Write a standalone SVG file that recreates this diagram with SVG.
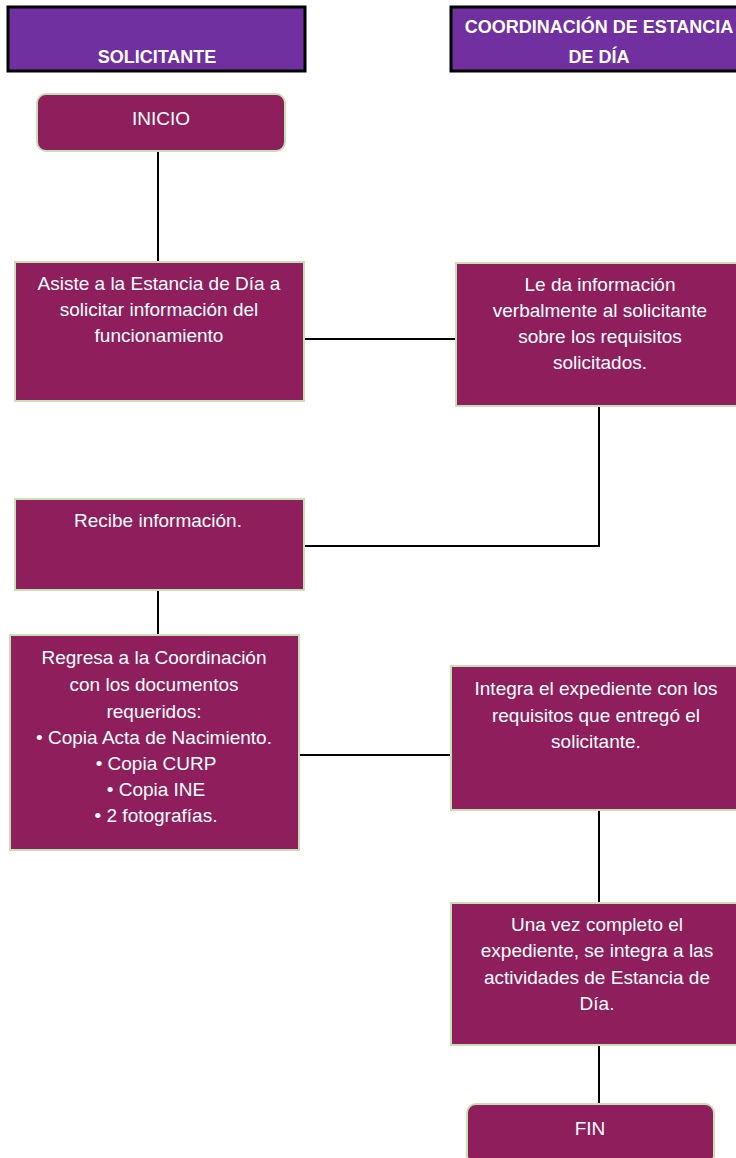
<svg xmlns="http://www.w3.org/2000/svg" width="736" height="1158" viewBox="0 0 736 1158">
<style>
.hdr{fill:#7030A0;stroke:#000;stroke-width:3}
.ht{font-family:"Liberation Sans",Arial,sans-serif;font-weight:bold;font-size:18px;fill:#fff;text-anchor:middle}
.box{fill:#8E1E5C;stroke:#C5E0B4;stroke-width:2}
.t{font-family:"Liberation Sans",Arial,sans-serif;font-size:19px;fill:#fff;text-anchor:middle}
.c{stroke:#000;stroke-width:2;fill:none}
</style>
<rect width="736" height="1158" fill="#fff"/>
<g id="lane-solicitante">
<rect class="hdr" x="8" y="7" width="297" height="64"/>
<text class="ht" x="157" y="63">SOLICITANTE</text>
</g>
<g id="lane-coordinacion">
<rect class="hdr" x="451" y="7" width="300" height="64"/>
<text class="ht" x="599" y="33">COORDINACIÓN DE ESTANCIA</text>
<text class="ht" x="599" y="63">DE DÍA</text>
</g>
<g id="connectors">
<path class="c" d="M158 151V262"/>
<path class="c" d="M304 339H456"/>
<path class="c" d="M599 406V546H304"/>
<path class="c" d="M158 590V635"/>
<path class="c" d="M299 755H451"/>
<path class="c" d="M599 810V903"/>
<path class="c" d="M599 1045V1104"/>
</g>
<g id="inicio">
<rect class="box" x="37" y="94" width="248" height="57" rx="9"/>
<text class="t" x="161" y="125">INICIO</text>
</g>
<g id="asiste">
<rect class="box" x="15" y="262" width="289" height="139"/>
<text class="t" x="159" y="290">Asiste a la Estancia de Día a</text>
<text class="t" x="159" y="316">solicitar información del</text>
<text class="t" x="159" y="342">funcionamiento</text>
</g>
<g id="le-da">
<rect class="box" x="456" y="263" width="290" height="143"/>
<text class="t" x="600" y="291">Le da información</text>
<text class="t" x="600" y="317">verbalmente al solicitante</text>
<text class="t" x="600" y="343">sobre los requisitos</text>
<text class="t" x="600" y="369">solicitados.</text>
</g>
<g id="recibe">
<rect class="box" x="15" y="499" width="289" height="91"/>
<text class="t" x="158" y="527">Recibe información.</text>
</g>
<g id="regresa">
<rect class="box" x="10" y="635" width="289" height="215"/>
<text class="t" x="154" y="664">Regresa a la Coordinación</text>
<text class="t" x="154" y="691">con los documentos</text>
<text class="t" x="154" y="718">requeridos:</text>
<text class="t" x="154" y="744">• Copia Acta de Nacimiento.</text>
<text class="t" x="156" y="770">• Copia CURP</text>
<text class="t" x="156" y="796">• Copia INE</text>
<text class="t" x="156" y="822">• 2 fotografías.</text>
</g>
<g id="integra">
<rect class="box" x="451" y="666" width="295" height="144"/>
<text class="t" x="596" y="695">Integra el expediente con los</text>
<text class="t" x="596" y="722">requisitos que entregó el</text>
<text class="t" x="596" y="748">solicitante.</text>
</g>
<g id="una-vez">
<rect class="box" x="451" y="903" width="295" height="142"/>
<text class="t" x="597" y="931">Una vez completo el</text>
<text class="t" x="597" y="957">expediente, se integra a las</text>
<text class="t" x="597" y="984">actividades de Estancia de</text>
<text class="t" x="597" y="1010">Día.</text>
</g>
<g id="fin">
<rect class="box" x="467" y="1104" width="247" height="60" rx="9"/>
<text class="t" x="590" y="1135">FIN</text>
</g>
</svg>
